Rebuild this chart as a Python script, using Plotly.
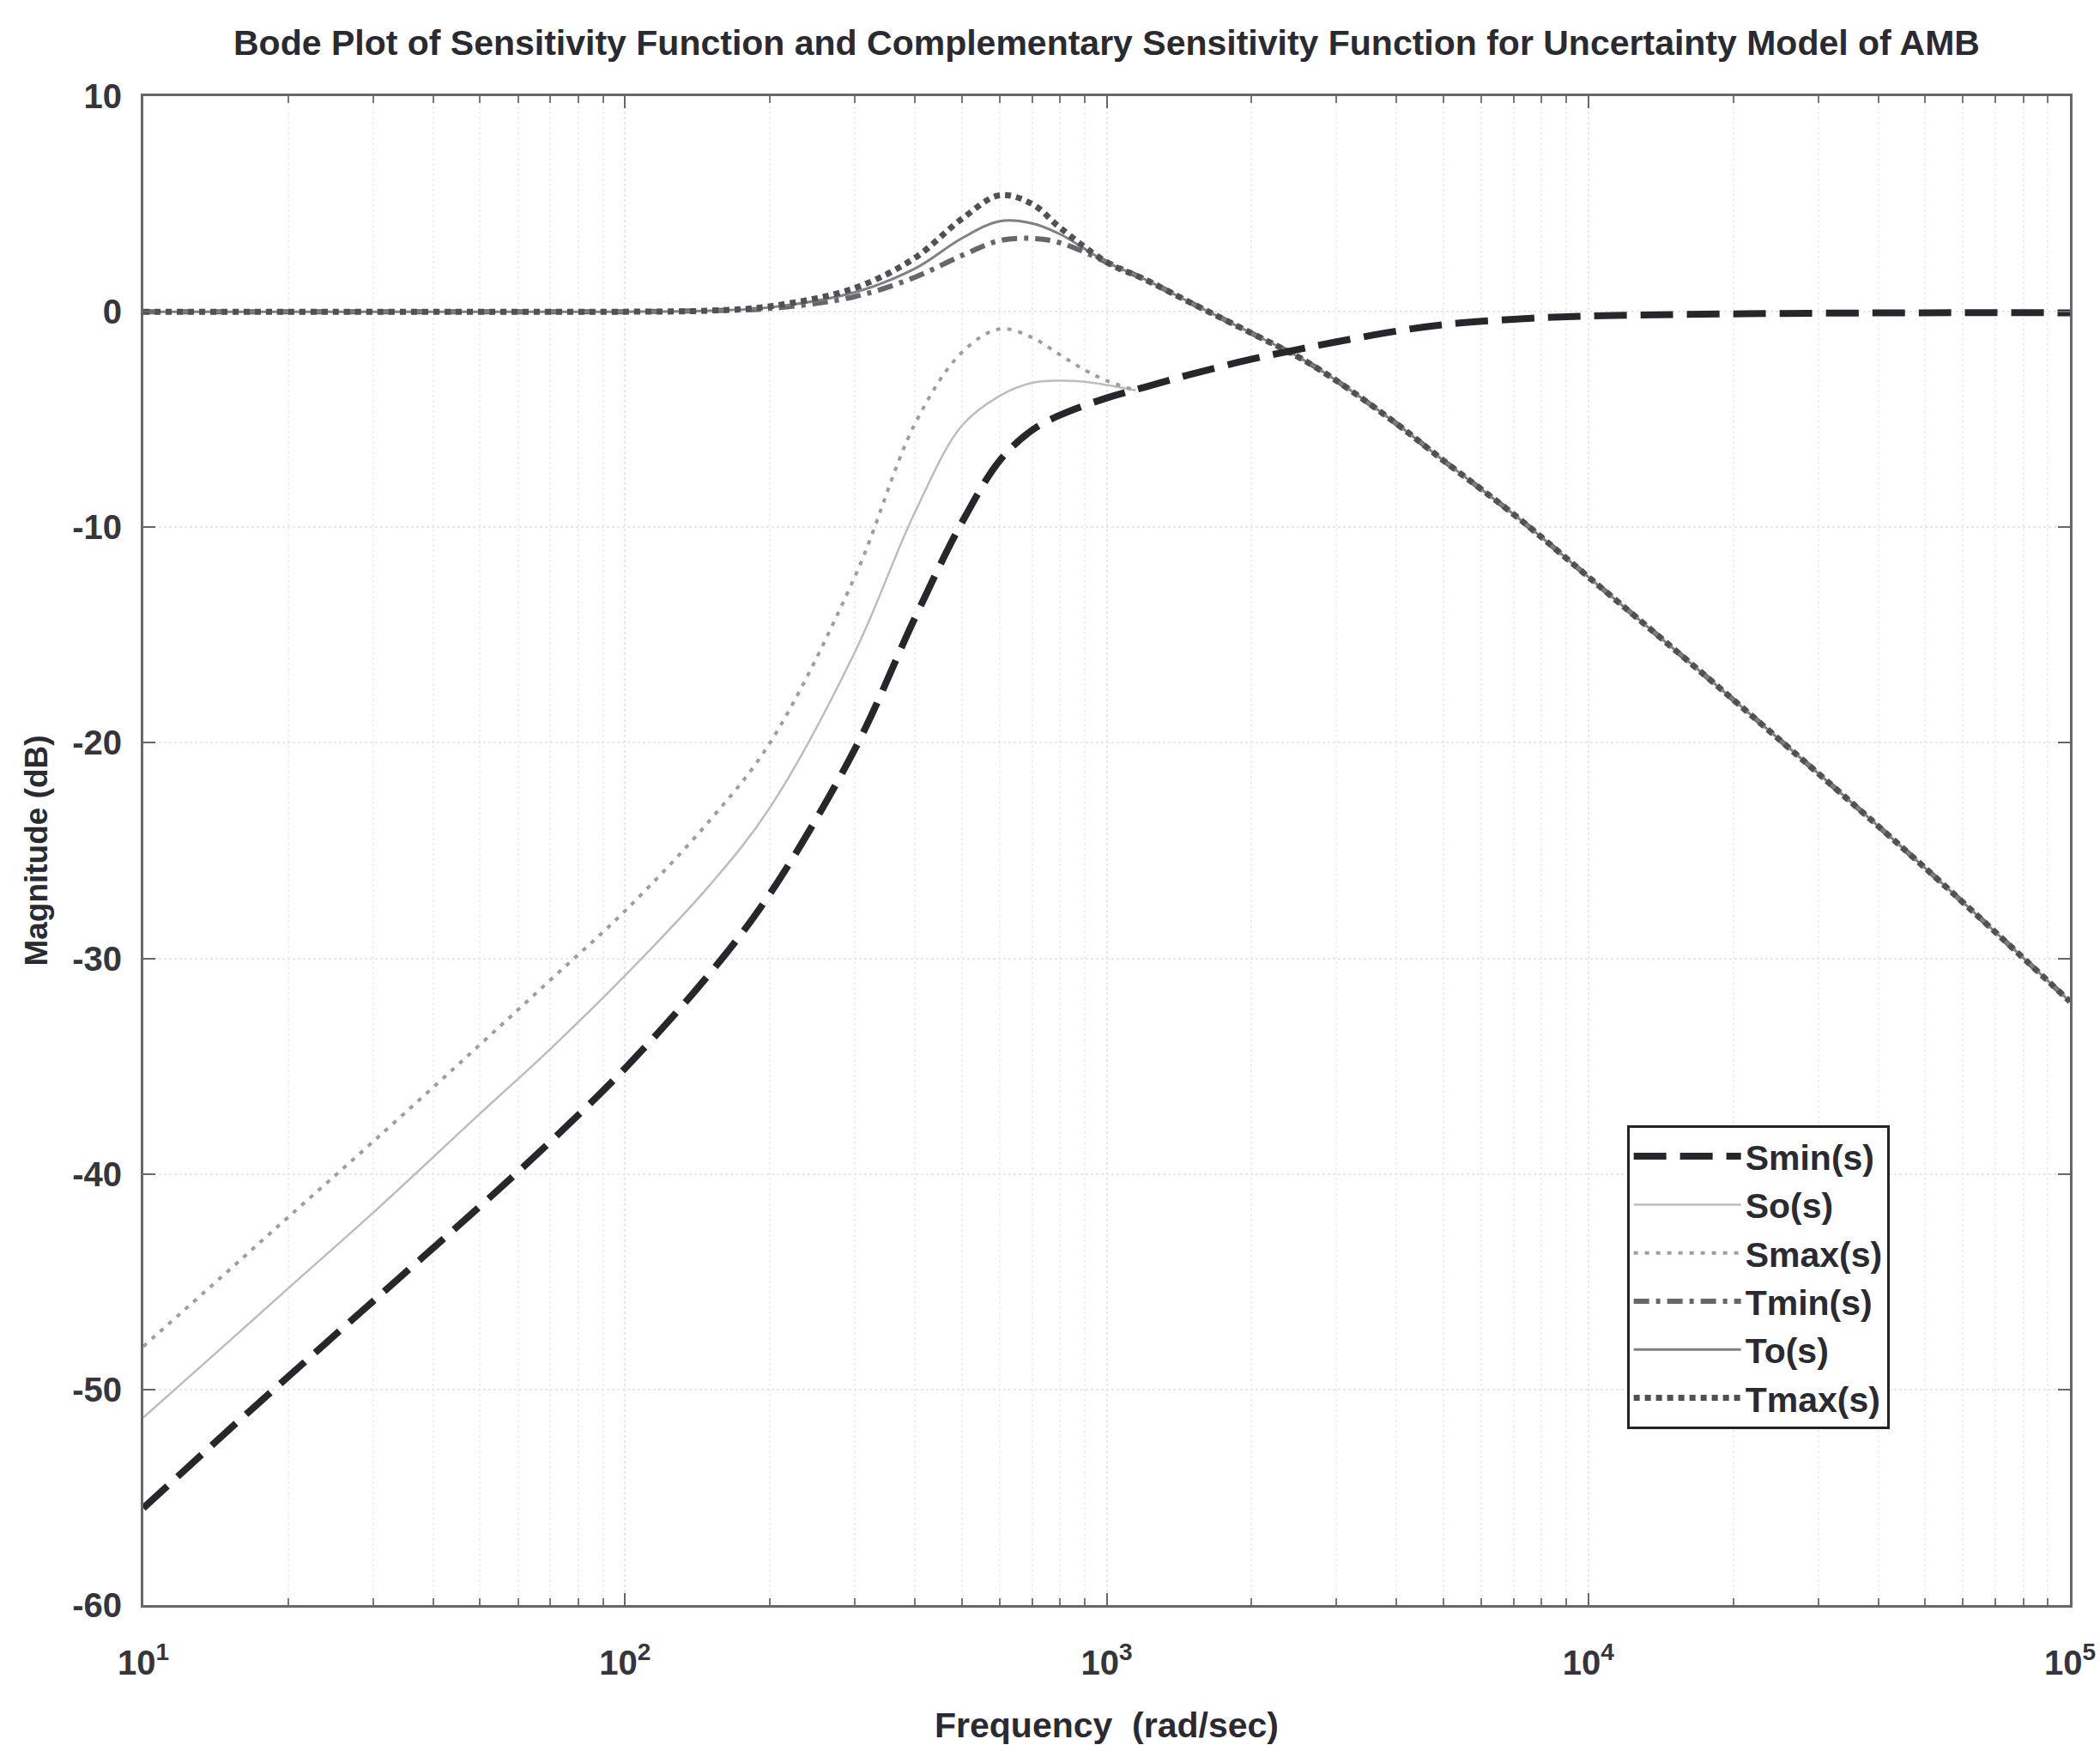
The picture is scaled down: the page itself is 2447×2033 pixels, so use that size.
import plotly.graph_objects as go

freq = [10, 15, 20, 30, 50, 70, 100, 150, 200, 300, 400, 500, 600, 700, 800,
        1000, 1200, 1500, 2000, 2500, 3000, 4000, 5000, 7000, 10000, 20000, 50000, 100000]

# Sensitivity curves (dB)
smin = [-55.5, -51.9, -49.4, -45.9, -41.5, -38.5, -35.1, -30.7, -27.0, -20.3, -14.2, -9.8, -6.9, -5.5, -4.8,
        -4.0, -3.5, -2.9, -2.2, -1.75, -1.4, -0.9, -0.6, -0.35, -0.2, -0.1, -0.05, -0.05]
so_freq = [10, 15, 20, 30, 50, 70, 100, 150, 200, 300, 400, 500, 600, 700, 800, 900, 1000, 1150]
so = [-51.3, -47.8, -45.3, -41.8, -37.2, -34.2, -30.8, -26.6, -23.0, -15.8, -9.3, -5.3, -3.9, -3.3, -3.2, -3.25, -3.4, -3.65]
smax_freq = [10, 15, 20, 30, 50, 70, 100, 150, 200, 300, 400, 500, 600, 700, 800, 900, 1000, 1150]
smax = [-48.0, -44.5, -42.0, -38.5, -34.0, -31.0, -27.8, -23.6, -20.0, -12.3, -5.2, -1.9, -0.8, -1.2, -2.0, -2.7, -3.2, -3.65]

# Complementary sensitivity curves (dB)
tmin = [0, 0, 0, 0, 0, 0, 0, 0.05, 0.15, 0.7, 1.6, 2.6, 3.3, 3.4, 3.2,
        2.3, 1.5, 0.4, -1.0, -2.1, -3.2, -5.2, -6.9, -9.4, -12.3, -18.0, -25.8, -32.0]
to = [0, 0, 0, 0, 0, 0, 0, 0.05, 0.2, 0.9, 2.0, 3.4, 4.2, 4.1, 3.6,
      2.3, 1.5, 0.4, -1.0, -2.1, -3.2, -5.2, -6.9, -9.4, -12.3, -18.0, -25.8, -32.0]
tmax = [0, 0, 0, 0, 0, 0, 0, 0.05, 0.25, 1.1, 2.5, 4.3, 5.4, 5.0, 3.9,
        2.3, 1.5, 0.4, -1.0, -2.1, -3.2, -5.2, -6.9, -9.4, -12.3, -18.0, -25.8, -32.0]

xtick_vals = [10, 100, 1000, 10000, 100000]
xtick_text = ["10<sup>1</sup>", "10<sup>2</sup>", "10<sup>3</sup>", "10<sup>4</sup>", "10<sup>5</sup>"]
ytick_vals = [-60, -50, -40, -30, -20, -10, 0, 10]
ytick_text = ["-60", "-50", "-40", "-30", "-20", "-10", "0", "10"]

FONT = "Liberation Sans"
TXT = "#35353b"

fig = go.Figure()
# draw order: T curves under, S curves, Smin on top
fig.add_trace(go.Scatter(x=freq, y=tmin, mode="lines", name="Tmin(s)", legendrank=4,
                         line=dict(color="#66666c", width=6, dash="18px,8px,5px,8px", shape="spline")))
fig.add_trace(go.Scatter(x=freq, y=to, mode="lines", name="To(s)", legendrank=5,
                         line=dict(color="#808086", width=3, shape="spline")))
fig.add_trace(go.Scatter(x=freq, y=tmax, mode="lines", name="Tmax(s)", legendrank=6,
                         line=dict(color="#505056", width=7, dash="7px,6px", shape="spline")))
fig.add_trace(go.Scatter(x=so_freq, y=so, mode="lines", name="So(s)", legendrank=2,
                         line=dict(color="#bdbdc0", width=2.5, shape="spline")))
fig.add_trace(go.Scatter(x=smax_freq, y=smax, mode="lines", name="Smax(s)", legendrank=3,
                         line=dict(color="#9d9da2", width=4, dash="5px,8px", shape="spline")))
fig.add_trace(go.Scatter(x=freq, y=smin, mode="lines", name="Smin(s)", legendrank=1,
                         line=dict(color="#26262c", width=8, dash="38px,16px", shape="spline")))

fig.update_layout(
    width=2447, height=2033,
    margin=dict(l=167, r=35, t=112, b=163),
    paper_bgcolor="white", plot_bgcolor="white",
    font=dict(family=FONT, size=40, color=TXT, weight="bold"),
    title=dict(text="Bode Plot of Sensitivity Function and Complementary Sensitivity Function for Uncertainty Model of AMB",
               x=0.5, xref="paper", xanchor="center", y=1 - 50 / 2033, yanchor="middle",
               font=dict(family=FONT, size=41, color="#2a2a30", weight="bold")),
    showlegend=True,
    legend=dict(x=0.770, y=0.318, xanchor="left", yanchor="top",
                bgcolor="white", bordercolor="#222228", borderwidth=3,
                font=dict(family=FONT, size=41, color="#2a2a30", weight="bold"),
                itemwidth=125, traceorder="normal"),
)

fig.update_xaxes(
    type="log", range=[1, 5],
    tickvals=xtick_vals, ticktext=xtick_text,
    ticks="inside", ticklen=14, tickwidth=2, tickcolor="#66666c",
    ticklabelstandoff=30,
    showline=True, linecolor="#66666c", linewidth=3, mirror="ticks",
    showgrid=True, gridcolor="#e8e8e8", gridwidth=2, griddash="dot",
    minor=dict(dtick="D1", ticks="inside", ticklen=8, tickcolor="#77777c",
               showgrid=True, gridcolor="#f0f0f0", gridwidth=2, griddash="dot"),
    zeroline=False, automargin=False,
    title=dict(text="Frequency  (rad/sec)", standoff=40,
               font=dict(family=FONT, size=41, color="#2a2a30", weight="bold")),
)
fig.update_yaxes(
    range=[-60, 10],
    tickvals=ytick_vals, ticktext=ytick_text,
    ticks="inside", ticklen=14, tickwidth=2, tickcolor="#66666c",
    ticklabelstandoff=14,
    showline=True, linecolor="#66666c", linewidth=3, mirror="ticks",
    showgrid=True, gridcolor="#e8e8e8", gridwidth=2, griddash="dot",
    zeroline=False, automargin=False,
    title=dict(text="Magnitude (dB)", standoff=18,
               font=dict(family=FONT, size=37, color="#2a2a30", weight="bold")),
)

fig.write_html("out.html")
